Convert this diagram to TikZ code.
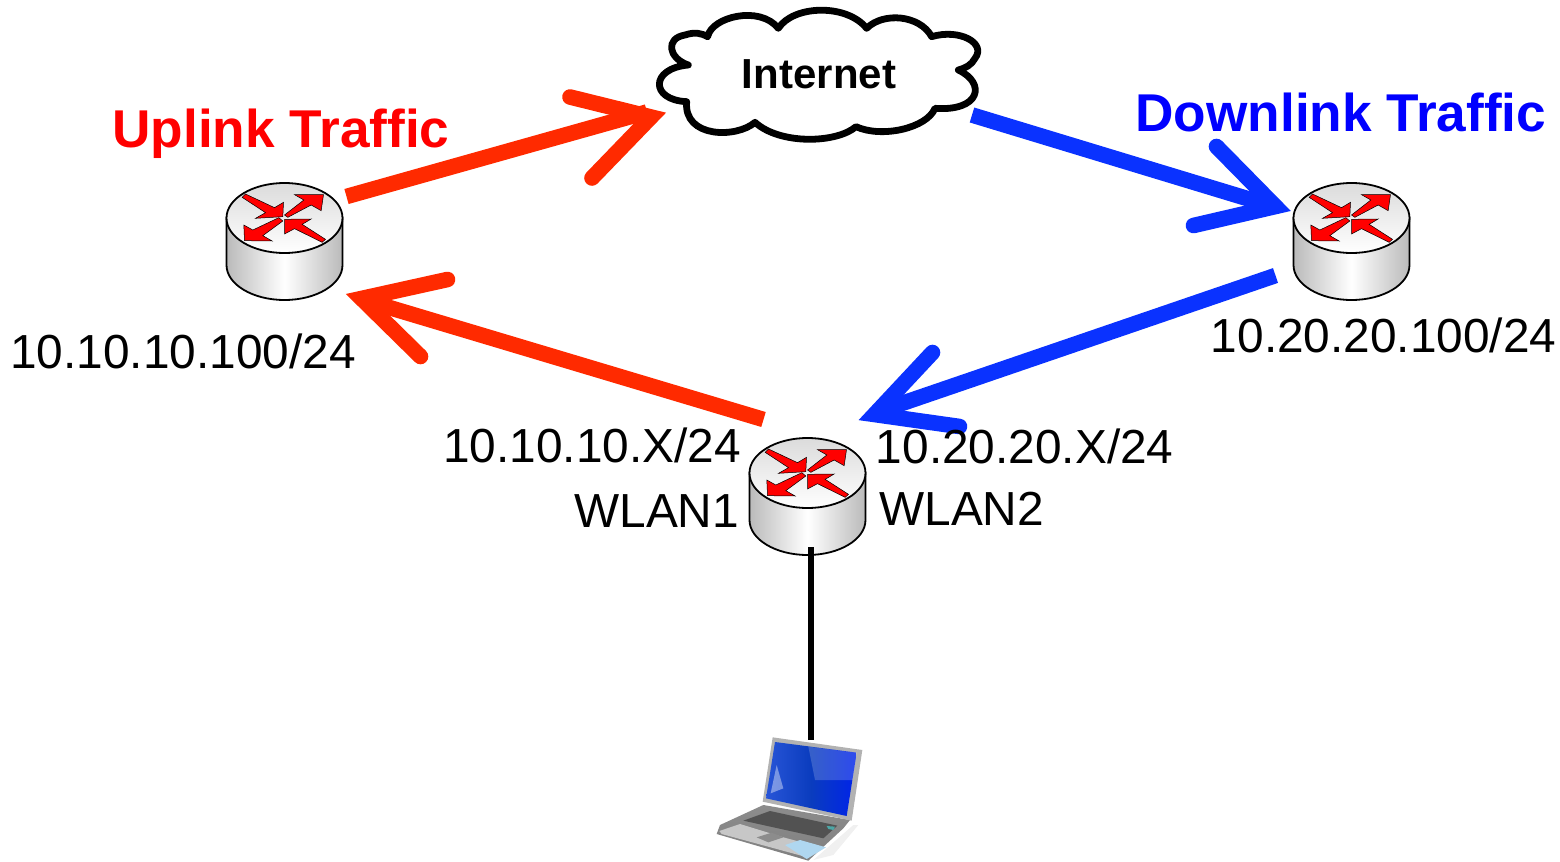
\documentclass[tikz,border=0pt]{standalone}
\usepackage{fontspec}
\setmainfont{Liberation Sans}
\usetikzlibrary{calc}
\definecolor{upred}{RGB}{255,42,0}
\definecolor{downblue}{RGB}{10,50,255}
\definecolor{arrred}{RGB}{255,0,0}
\definecolor{scrA}{RGB}{40,85,215}
\definecolor{scrB}{RGB}{10,60,190}
\definecolor{scrC}{RGB}{0,35,235}
\definecolor{padblue}{RGB}{175,215,240}
\tikzset{
  txt/.style={anchor=base west,inner sep=0pt,font=\fontsize{23.9pt}{28pt}\selectfont,text=black},
  boldtxt/.style={anchor=base west,inner sep=0pt,font=\fontsize{26.6pt}{30pt}\selectfont\bfseries},
  routernode/.style={minimum width=58.5pt,minimum height=58.5pt,inner sep=0pt,outer sep=0pt},
  shaft/.style={line width=7.8pt,line cap=butt},
  chevron/.style={line width=7.8pt,line cap=round,line join=miter,miter limit=10},
  rarrow/.style={fill=arrred,draw=black,line width=0.25pt,line join=miter},
  pics/router/.style={code={
    \path[left color=black!27,right color=black!27,middle color=white,draw=black,line width=.9pt]
      (-58,-23.5) -- (-58,23.5) .. controls (-58,42.8) and (-32,58.5) .. (0,58.5)
      .. controls (32,58.5) and (58,42.8) .. (58,23.5) -- (58,-23.5) -- cycle;
    \path[top color=black!14,bottom color=white,draw=black,line width=.9pt]
      (-58,-23.5) .. controls (-58,-42.8) and (-32,-58.5) .. (0,-58.5)
      .. controls (32,-58.5) and (58,-42.8) .. (58,-23.5)
      .. controls (58,-4.2) and (32,11.5) .. (0,11.5)
      .. controls (-32,11.5) and (-58,-4.2) .. (-58,-23.5) -- cycle;
    \begin{scope}[shift={(-75,-71.5)},scale=1/3]
      \path[rarrow] (108,72) -- (195,113) -- (222,97) -- (220,140) -- (138,145) -- (168,128) -- (98,82) -- cycle;
      \path[rarrow] (225,135) -- (283,90) -- (255,74) -- (342,74) -- (335,122) -- (305,105) -- (235,142) -- cycle;
      \path[rarrow] (208,143) -- (130,180) -- (103,165) -- (105,212) -- (188,213) -- (160,197) -- (220,153) -- cycle;
      \path[rarrow] (348,208) -- (278,163) -- (305,147) -- (225,148) -- (225,192) -- (255,176) -- (338,217) -- cycle;
    \end{scope}
  }},
}
\begin{document}
\begin{tikzpicture}[x=0.5pt,y=-0.5pt]
\useasboundingbox (0,0) rectangle (1560,862);
% nodes
\node[routernode] (r1) at (284.5,241.5) {};
\node[routernode] (r2) at (1351.5,241.5) {};
\node[routernode] (r3) at (807.5,496.5) {};
\node[minimum width=162pt,minimum height=65pt,inner sep=0pt] (inet) at (819,74) {};
\node[minimum width=75pt,minimum height=62pt,inner sep=0pt] (pc) at (790,800) {};
% cloud
\begin{scope}[shift={(640,0)},scale=1/3]
\draw[line width=3.4pt,fill=white,line join=round]
 (145,195) .. controls (85,175) and (75,115) .. (135,105)
 .. controls (165,95) and (185,100) .. (203,110)
 .. controls (215,50) and (360,15) .. (415,85)
 .. controls (460,15) and (620,10) .. (680,85)
 .. controls (730,35) and (840,45) .. (875,110)
 .. controls (960,85) and (1040,130) .. (1005,175)
 .. controls (995,195) and (975,205) .. (955,210)
 .. controls (1040,250) and (1020,335) .. (885,325)
 .. controls (860,385) and (725,415) .. (648,380)
 .. controls (590,430) and (420,435) .. (345,367)
 .. controls (290,415) and (130,415) .. (140,305)
 .. controls (30,300) and (30,205) .. (145,195) -- cycle;
\end{scope}
% connectors
\draw[shaft,upred] ($(r1)+(62,-45)$) -- ($(inet)+(-172,38)$);
\draw[chevron,upred] ($(inet)+(-249,23)$) -- ($(inet)+(-168,43)$) -- ($(inet)+(-227,104)$);
\draw[shaft,upred] ($(r3)+(-44,-77)$) -- ($(r1)+(78,58)$);
\draw[chevron,upred] ($(r1)+(163,38)$) -- ($(r1)+(77,57)$) -- ($(r1)+(136,115)$);
\draw[shaft,downblue] ($(inet)+(153,41)$) -- ($(r2)+(-78,-35)$);
\draw[chevron,downblue] ($(r2)+(-135,-95)$) -- ($(r2)+(-76,-35)$) -- ($(r2)+(-158,-16)$);
\draw[shaft,downblue] ($(r2)+(-76,34)$) -- ($(r3)+(68,-84)$);
\draw[chevron,downblue] ($(r3)+(125,-144)$) -- ($(r3)+(67,-82)$) -- ($(r3)+(152,-70)$);
% routers
\pic at (r1) {router};
\pic at (r2) {router};
\pic at (r3) {router};
\draw[line width=2.6pt,black] ($(r3.south)+(3.5,-8)$) -- ($(pc.north)+(21,2)$);
% laptop
\begin{scope}[shift={(700,730)},scale=1/3]
 \fill[black!6] (340,390) -- (460,285) -- (475,285) -- (400,375) -- cycle;
 \path[top color=black!45,bottom color=black!50] (190,225) -- (450,270) -- (430,295) -- (325,392) -- (50,312) -- (60,285) -- cycle;
 \fill[black!22] (58,303) -- (120,282) -- (250,322) -- (335,345) -- (322,382) -- (65,312) -- cycle;
 \fill[black!68] (130,272) -- (210,243) -- (412,287) -- (370,325) -- cycle;
 \fill[black!45] (170,322) -- (215,308) -- (250,322) -- (205,337) -- cycle;
 \fill[padblue] (255,345) -- (300,330) -- (378,352) -- (320,387) -- cycle;
 \fill[teal!70] (380,288) -- (405,290) -- (400,300) -- (385,297) -- cycle;
 \fill[black!30] (218,22) -- (487,60) -- (455,272) -- (188,215) -- cycle;
 \path[left color=scrA,right color=scrC,middle color=scrB] (225,36) -- (470,68) -- (440,258) -- (198,205) -- cycle;
 \fill[white,opacity=.18] (325,50) -- (470,68) -- (458,150) -- (345,150) -- cycle;
 \fill[white,opacity=.4] (230,105) -- (250,175) -- (212,190) -- cycle;
\end{scope}
% labels
\node[txt] (l1) at (10,368) {10.10.10.100/24};
\node[txt] (l2) at (1210.5,352) {10.20.20.100/24};
\node[txt] (l3) at (443,462) {10.10.10.X/24};
\node[txt] (l4) at (574,527) {WLAN1};
\node[txt] (l5) at (875.5,463) {10.20.20.X/24};
\node[txt] (l6) at (879,525) {WLAN2};
\node[boldtxt,text=arrred] (l7) at (112,147) {Uplink Traffic};
\node[boldtxt,text=blue] (l8) at (1135,131) {Downlink Traffic};
\node[anchor=base,inner sep=0pt,font=\fontsize{21pt}{25pt}\selectfont\bfseries] (l9) at (819,88) {Internet};
\end{tikzpicture}
\end{document}
